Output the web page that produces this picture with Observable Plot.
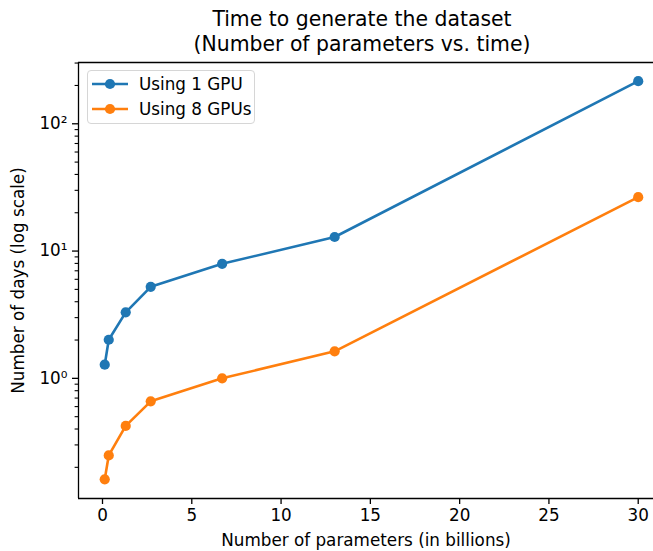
<!DOCTYPE html>
<html>
<head>
<meta charset="utf-8">
<script src="https://cdn.jsdelivr.net/npm/d3@7"></script>
<script src="https://cdn.jsdelivr.net/npm/@observablehq/plot@0.6"></script>
<style>
  html, body { margin: 0; padding: 0; background: #fff; }
  #wrap { position: relative; width: 653px; height: 551px; font-family: "DejaVu Sans", sans-serif; color: #000; overflow: hidden; }
  .title { position: absolute; left: 0; width: 724px; text-align: center; font-size: 20.4px; line-height: 25px; white-space: nowrap; }
  #legend { position: absolute; left: 87px; top: 70px; width: 168px; height: 54px; box-sizing: border-box;
            border: 1px solid #d6d6d6; border-radius: 4px; background: rgba(255,255,255,0.8); font-size: 16.8px; }
  .row { position: absolute; left: 4px; height: 22px; display: flex; align-items: center; white-space: nowrap; }
  .row span { margin-left: 11px; }
</style>
</head>
<body>
<div id="wrap">
  <div id="chart"></div>
  <div class="title" style="top:7px">Time to generate the dataset</div>
  <div class="title" style="top:32px">(Number of parameters vs. time)</div>
  <div id="legend"></div>
</div>
<script>
// Data (model sizes in billions of parameters; days to generate)
const sizes = [0.125, 0.35, 1.3, 2.7, 6.7, 13, 30];
const days1Gpu = [1.28, 2.01, 3.3, 5.24, 7.94, 12.9, 216];
const days8Gpu = [0.161, 0.248, 0.423, 0.66, 1.0, 1.63, 26.5];
const seriesNames = ["Using 1 GPU", "Using 8 GPUs"];
const seriesColors = ["#1f77b4", "#ff7f0e"];
const xTicks = [0, 5, 10, 15, 20, 25, 30];
const yMajorTicks = [1, 10, 100];
const yMajorLabels = ["10\u2070", "10\u00b9", "10\u00b2"];
const yMinorTicks = [0.2,0.3,0.4,0.5,0.6,0.7,0.8,0.9,2,3,4,5,6,7,8,9,20,30,40,50,60,70,80,90,200,300];
const xDomain = [-1.344, 30.856];
const yDomain = [0.1138, 303];

const rows = [];
sizes.forEach((s, i) => {
  rows.push({size: s, days: days1Gpu[i], series: seriesNames[0]});
  rows.push({size: s, days: days8Gpu[i], series: seriesNames[1]});
});
const yLabelOf = new Map(yMajorTicks.map((t, i) => [t, yMajorLabels[i]]));

const chart = Plot.plot({
  width: 653,
  height: 551,
  marginLeft: 78,
  marginRight: 0,
  marginTop: 62,
  marginBottom: 53,
  style: {fontFamily: "DejaVu Sans, sans-serif", fontSize: "16.8px", color: "#000", background: "#fff", overflow: "visible"},
  x: {domain: xDomain},
  y: {type: "log", domain: yDomain},
  color: {domain: seriesNames, range: seriesColors},
  marks: [
    Plot.axisX(xTicks, {tickSize: 6, tickPadding: 5, strokeWidth: 1.3, label: "Number of parameters (in billions)", labelAnchor: "center", labelArrow: "none", labelOffset: 47}),
    Plot.axisY(yMajorTicks, {tickSize: 6, tickPadding: 5, strokeWidth: 1.3, tickFormat: d => yLabelOf.get(d), label: "Number of days (log scale)", labelAnchor: "center", labelArrow: "none", labelOffset: 66}),
    Plot.axisY(yMinorTicks, {tickSize: 3.4, strokeWidth: 1.1, text: null, label: null}),
    Plot.ruleX([xDomain[0]], {stroke: "#000", strokeWidth: 1.3}),
    Plot.ruleY([yDomain[0]], {stroke: "#000", strokeWidth: 1.3}),
    Plot.ruleY([yDomain[1]], {stroke: "#000", strokeWidth: 1.3}),
    Plot.line(rows, {x: "size", y: "days", z: "series", stroke: "series", strokeWidth: 2.6}),
    Plot.dot(rows, {x: "size", y: "days", fill: "series", r: 5.1, stroke: "none"})
  ]
});
document.getElementById("chart").appendChild(chart);

const legend = document.getElementById("legend");
seriesNames.forEach((name, i) => {
  const row = document.createElement("div");
  row.className = "row";
  row.style.top = (2 + i * 25) + "px";
  row.innerHTML = `<svg width="36" height="22"><line x1="0" y1="11" x2="36" y2="11" stroke="${seriesColors[i]}" stroke-width="2.6"/><circle cx="18" cy="11" r="5.1" fill="${seriesColors[i]}"/></svg><span>${name}</span>`;
  legend.appendChild(row);
});
</script>
</body>
</html>
